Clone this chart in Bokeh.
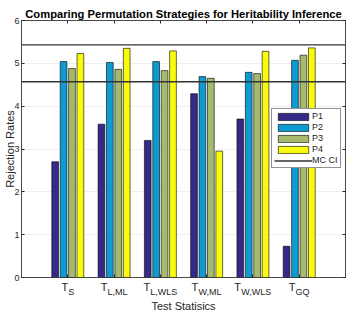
import numpy as np
from bokeh.plotting import figure
from bokeh.models import Range1d, LinearAxis, FixedTicker, Legend, LegendItem
from bokeh.embed import file_html
from bokeh.resources import INLINE

# ---------------- data ----------------
title_text = "Comparing Permutation Strategies for Heritability Inference"
x_title = "Test Statisics"
y_title = "Rejection Rates"
test_main = ["T", "T", "T", "T", "T", "T"]
test_sub = ["S", "L,ML", "L,WLS", "W,ML", "W,WLS", "GQ"]
series_names = ["P1", "P2", "P3", "P4"]
p1 = [2.70, 3.58, 3.20, 4.29, 3.70, 0.73]
p2 = [5.04, 5.02, 5.04, 4.69, 4.79, 5.07]
p3 = [4.88, 4.86, 4.83, 4.65, 4.76, 5.19]
p4 = [5.23, 5.35, 5.29, 2.95, 5.28, 5.36]
ci_label = "MC CI"
ci_low = 4.57
ci_high = 5.43
y_ticks = [0, 1, 2, 3, 4, 5, 6]
x_lo, x_hi = 0, 7
y_lo, y_hi = 0, 6

# ---------------- style ----------------
FONT = "Liberation Sans"
AX = "#262626"
colors = ["#352a87", "#0d9bd2", "#a5bb6b", "#f9fb0e"]
W, H = 350, 314
BL, BR = 21, 5

p = figure(width=W, height=H, output_backend="svg", toolbar_location=None,
           x_range=Range1d(x_lo, x_hi), y_range=Range1d(y_lo, y_hi),
           min_border_left=BL, min_border_right=BR, min_border_top=20,
           min_border_bottom=37, background_fill_color="white",
           border_fill_color="white")
p.outline_line_color = AX
p.outline_line_width = 0.6

# title
p.title.text = title_text
p.title.text_font = FONT
p.title.text_font_size = "11.2px"
p.title.text_font_style = "bold"
p.title.text_color = "black"
p.title.align = "center"
p.title.standoff = 1

cats = np.arange(1, len(test_sub) + 1)
ppu = (W - BL - BR) / (x_hi - x_lo)  # approx. pixels per category unit

# widths (em/1000) for placing the subscript pieces next to "T"
wtab = {"T": 611, "S": 667, "L": 556, ",": 278, "M": 833, "W": 944, "G": 778, "Q": 778}
main_fs, sub_fs = 11, 9
t_pos, s_pos = [], []
for c, m, s in zip(cats, test_main, test_sub):
    wm = sum(wtab[ch] for ch in m) * main_fs / 1000
    ws = sum(wtab[ch] for ch in s) * sub_fs / 1000
    t_pos.append(round(float(c - ws / 2 / ppu), 4))
    s_pos.append(round(float(c + wm / 2 / ppu), 4))

# bottom axis: "T" labels + minor ticks at the category centres
xa = p.xaxis[0]
xa.ticker = FixedTicker(ticks=t_pos, minor_ticks=list(cats))
xa.major_label_overrides = {t: m for t, m in zip(t_pos, test_main)}
xa.major_tick_line_color = None
xa.major_tick_in = 0
xa.major_tick_out = 0
xa.minor_tick_in = 3
xa.minor_tick_out = 0
xa.minor_tick_line_color = AX
xa.axis_line_color = AX
xa.axis_line_width = 0.6
xa.major_label_text_font = FONT
xa.major_label_text_font_size = f"{main_fs}px"
xa.major_label_text_color = AX
xa.major_label_standoff = 3

# second bottom axis carrying the subscripts and the axis title
xs_ax = LinearAxis(ticker=FixedTicker(ticks=s_pos),
                   major_label_overrides={t: s for t, s in zip(s_pos, test_sub)},
                   major_tick_line_color=None, major_tick_in=0, major_tick_out=0,
                   minor_tick_line_color=None, minor_tick_in=0, minor_tick_out=0,
                   axis_line_color=None, major_label_text_font=FONT,
                   major_label_text_font_size=f"{sub_fs}px", major_label_text_color=AX,
                   major_label_standoff=-9, axis_label=x_title,
                   axis_label_text_font=FONT, axis_label_text_font_size="11px",
                   axis_label_text_font_style="normal", axis_label_text_color=AX,
                   axis_label_standoff=0)
p.add_layout(xs_ax, "below")

# left axis
ya = p.yaxis[0]
ya.ticker = FixedTicker(ticks=y_ticks)
ya.axis_line_color = AX
ya.axis_line_width = 0.6
ya.major_tick_line_color = AX
ya.major_tick_in = 3
ya.major_tick_out = 0
ya.minor_tick_line_color = None
ya.minor_tick_out = 0
ya.major_label_text_font = FONT
ya.major_label_text_font_size = "9px"
ya.major_label_text_color = AX
ya.major_label_standoff = 2
ya.axis_label = y_title
ya.axis_label_text_font = FONT
ya.axis_label_text_font_size = "11px"
ya.axis_label_text_font_style = "normal"
ya.axis_label_text_color = AX
ya.axis_label_standoff = -5

# box ticks on top and right (no labels)
top_ax = LinearAxis(ticker=FixedTicker(ticks=list(cats)), major_label_text_color=None,
                    major_label_text_font_size="1px", major_label_standoff=0,
                    major_tick_in=3, major_tick_out=0, minor_tick_line_color=None,
                    minor_tick_out=0, axis_line_color=AX, axis_line_width=0.6,
                    major_tick_line_color=AX)
right_ax = LinearAxis(ticker=FixedTicker(ticks=y_ticks), major_label_text_color=None,
                      major_label_text_font_size="1px", major_label_standoff=0,
                      major_tick_in=3, major_tick_out=0, minor_tick_line_color=None,
                      minor_tick_out=0, axis_line_color=AX, axis_line_width=0.6,
                      major_tick_line_color=AX)
p.add_layout(top_ax, "above")
p.add_layout(right_ax, "right")

p.xgrid.grid_line_color = None
p.ygrid.ticker = FixedTicker(ticks=y_ticks)
p.ygrid.grid_line_color = AX
p.ygrid.grid_line_alpha = 0.13
p.ygrid.grid_line_width = 0.6

# bars (MATLAB grouped layout)
nser = len(series_names)
gw = min(0.8, nser / (nser + 1.5))
slot = gw / nser
items = []
for j, vals in enumerate([p1, p2, p3, p4]):
    xs = cats + (j - (nser - 1) / 2) * slot
    r = p.vbar(x=xs, top=vals, bottom=0, width=0.8 * slot,
               fill_color=colors[j], line_color="black", line_width=0.6)
    items.append(LegendItem(label=series_names[j], renderers=[r]))

# MC CI lines
rl = p.line(x=[x_lo, x_hi], y=[ci_low, ci_low], line_color="#333333", line_width=1.3)
p.line(x=[x_lo, x_hi], y=[ci_high, ci_high], line_color="#333333", line_width=1.3)
items.append(LegendItem(label=ci_label, renderers=[rl]))

legend = Legend(items=items, location=(250, 109), orientation="vertical",
                label_text_font=FONT, label_text_font_size="9px", label_text_color=AX,
                glyph_width=38, glyph_height=9, label_height=9, label_standoff=0,
                spacing=1, padding=2, margin=0,
                border_line_color=AX, border_line_width=0.6,
                background_fill_color="white", background_fill_alpha=1.0)
p.add_layout(legend)

open("out.html", "w").write(file_html(p, INLINE))
